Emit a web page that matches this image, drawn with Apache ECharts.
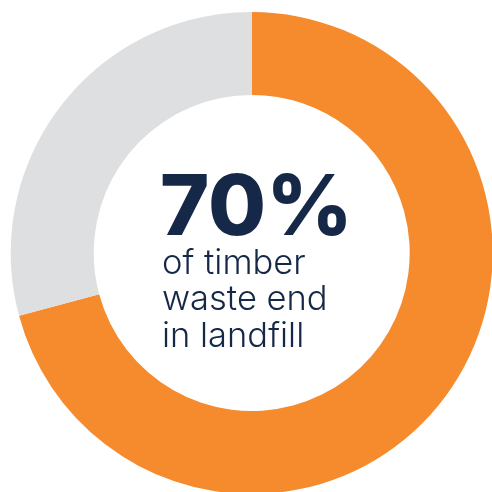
<!DOCTYPE html>
<html>
<head>
<meta charset="utf-8">
<script src="https://cdn.jsdelivr.net/npm/echarts@6/dist/echarts.min.js"></script>
<style>
html,body{margin:0;padding:0;background:#fff;}
#chart{width:492px;height:492px;}
</style>
</head>
<body>
<div id="chart"></div>
<script>
const categories = ['Landfill', 'Other'];
const values = [70.8, 29.2];
const colors = ['#F58B2C', '#DEDFE0'];
const headline = '70%';
const subLines = ['of timber', 'waste end', 'in landfill'];

const chart = echarts.init(document.getElementById('chart'), null, {renderer: 'canvas'});
const navy = '#152847';
chart.setOption({
  animation: false,
  series: [{
    type: 'pie',
    center: [251.7, 253],
    radius: [158, 241],
    startAngle: 90,
    clockwise: true,
    label: {show: false},
    labelLine: {show: false},
    silent: true,
    data: categories.map((c, i) => ({name: c, value: values[i], itemStyle: {color: colors[i]}}))
  }],
  graphic: [
    {type: 'text', left: 160, top: 168, style: {text: headline, font: '800 84px Inter', fill: navy}},
    {type: 'text', left: 162, top: 245, style: {text: subLines.join('\n'), font: '300 34.5px Inter', lineHeight: 36.5, fill: navy}}
  ]
});
</script>
</body>
</html>
